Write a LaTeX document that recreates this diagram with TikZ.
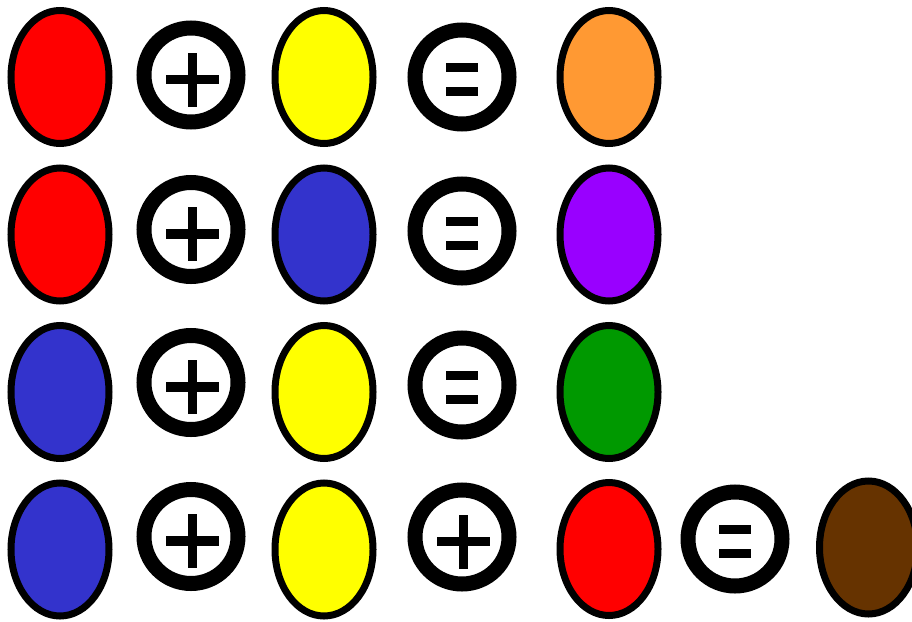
\documentclass[tikz,border=0pt]{standalone}
\usepackage{xcolor}
\usepackage{tikz}
\usetikzlibrary{shapes.geometric}
\definecolor{PaintRed}{HTML}{FF0000}
\definecolor{PaintYellow}{HTML}{FFFF00}
\definecolor{PaintBlue}{HTML}{3333CC}
\definecolor{PaintOrange}{HTML}{FF9933}
\definecolor{PaintPurple}{HTML}{9900FF}
\definecolor{PaintGreen}{HTML}{009900}
\definecolor{PaintBrown}{HTML}{663300}

\begin{document}
\begin{tikzpicture}[x=1pt,y=-1pt]
\tikzstyle{blob}=[ellipse,draw=black,line width=7pt,minimum width=98pt,
                  minimum height=133pt,inner sep=0pt]
\tikzstyle{op}=[circle,draw=black,line width=15pt,fill=white,
                minimum size=94pt,inner sep=0pt]
\tikzstyle{plusop}=[op,path picture={
  \fill[black,shift={(path picture bounding box.center)}] (-25pt,-9.25pt) rectangle (28pt,0.25pt);
  \fill[black,shift={(path picture bounding box.center)}] (-3.25pt,-31.5pt) rectangle (6.25pt,22.5pt);}]
\tikzstyle{eqop}=[op,path picture={
  \fill[black,shift={(path picture bounding box.center)}] (-16pt,5.5pt) rectangle (16pt,14.5pt);
  \fill[black,shift={(path picture bounding box.center)}] (-16pt,-19pt) rectangle (16pt,-10pt);}]
\clip (0,0) rectangle (912,621);
% red + yellow = orange
\node[blob,fill=PaintRed] (red1) at (60,77) {};
\node[plusop] (plus1) at (191,75) {};
\node[blob,fill=PaintYellow] (yellow1) at (324,77) {};
\node[eqop] (eq1) at (462,77) {};
\node[blob,fill=PaintOrange] (orange) at (609,77) {};
% red + blue = purple
\node[blob,fill=PaintRed] (red2) at (60,234.5) {};
\node[plusop] (plus2) at (191,229.5) {};
\node[blob,fill=PaintBlue] (blue2) at (324,234.5) {};
\node[eqop] (eq2) at (462,231) {};
\node[blob,fill=PaintPurple] (purple) at (609,234.5) {};
% blue + yellow = green
\node[blob,fill=PaintBlue] (blue3) at (60,392) {};
\node[plusop] (plus3) at (191,382.5) {};
\node[blob,fill=PaintYellow] (yellow3) at (324,392) {};
\node[eqop] (eq3) at (462,385) {};
\node[blob,fill=PaintGreen] (green) at (609,392) {};
% blue + yellow + red = brown
\node[blob,fill=PaintBlue] (blue4) at (60,549.5) {};
\node[plusop] (plus4a) at (191,536.5) {};
\node[blob,fill=PaintYellow] (yellow4) at (324,549.5) {};
\node[plusop] (plus4b) at (462,537) {};
\node[blob,fill=PaintRed] (red4) at (609,549) {};
\node[eqop] (eq4) at (735,539) {};
\node[blob,fill=PaintBrown] (brown) at (868.5,547.5) {};
\end{tikzpicture}
\end{document}
